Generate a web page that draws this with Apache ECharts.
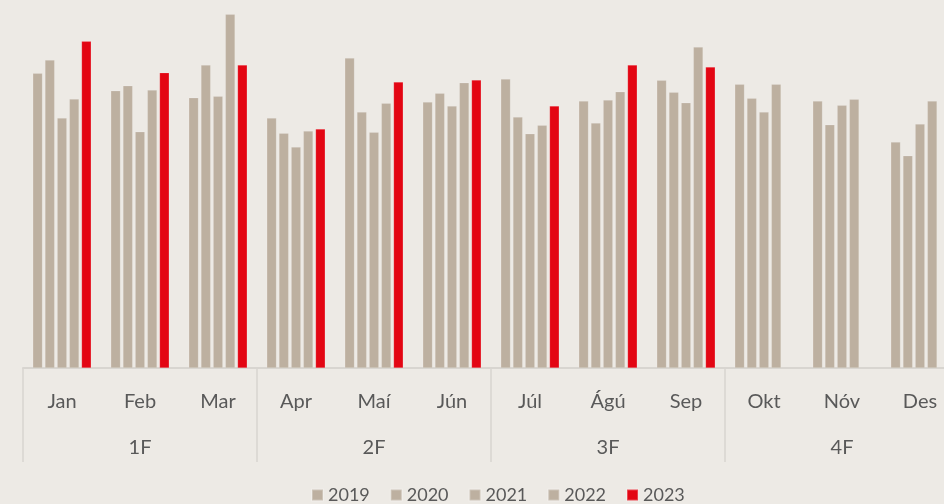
<!DOCTYPE html>
<html>
<head>
<meta charset="utf-8">
<script src="https://cdn.jsdelivr.net/npm/echarts@6/dist/echarts.min.js"></script>
<style>
html,body{margin:0;padding:0;background:#EDEAE5;overflow:hidden;width:944px;height:504px;}
#chart{width:959px;height:504px;}
</style>
</head>
<body>
<div id="chart"></div>
<script>
const months = ['Jan','Feb','Mar','Apr','Maí','Jún','Júl','Ágú','Sep','Okt','Nóv','Des'];
const quarters = ['1F','2F','3F','4F'];
const y2019 = [294.7, 277.3, 270.3, 250, 310, 266, 289, 267, 287.7, 283.7, 267, 226];
const y2020 = [308, 282.3, 303, 234.7, 256, 274.7, 251, 245, 275.7, 269.7, 243.3, 212.3];
const y2021 = [250, 236.3, 271.7, 221, 235.7, 262, 234.3, 268, 265.3, 256, 262.7, 244];
const y2022 = [269, 278, 353.7, 237, 264.7, 285.3, 242.7, 276.3, 321, 283.7, 268.7, 267];
const y2023 = [326.7, 295.3, 303, 239, 286, 288, 262, 303, 301, null, null, null];
const seriesNames = ['2019','2020','2021','2022','2023'];
const seriesData = [y2019, y2020, y2021, y2022, y2023];

const beige = '#BDB0A0';
const red = '#E30613';
const colors = [beige, beige, beige, beige, red];
const textColor = '#595959';
const lineColor = '#D8D5D0';

const chart = echarts.init(document.getElementById('chart'));
chart.setOption({
  backgroundColor: '#EDEAE5',
  animation: false,
  grid: { left: 23, top: 0, right: 0, height: 368, containLabel: false },
  legend: {
    bottom: -5,
    left: 306,
    itemWidth: 11,
    itemHeight: 11,
    itemGap: 20,
    icon: 'rect',
    textStyle: { color: textColor, fontSize: 18, fontFamily: 'Lato' },
    data: seriesNames
  },
  xAxis: [
    {
      type: 'category',
      data: months,
      axisLine: { show: true, lineStyle: { color: lineColor, width: 2 } },
      axisTick: { show: false },
      axisLabel: { color: textColor, fontSize: 20, fontFamily: 'Lato', margin: 24 }
    },
    {
      type: 'category',
      data: quarters,
      position: 'bottom',
      axisLine: { show: false },
      axisTick: { show: true, length: 94, lineStyle: { color: lineColor, width: 1.5 } },
      axisLabel: { color: textColor, fontSize: 20, fontFamily: 'Lato', margin: 70 }
    }
  ],
  yAxis: {
    type: 'value',
    min: 0,
    max: 368,
    show: false,
    splitLine: { show: false }
  },
  series: seriesNames.map((n, i) => ({
    name: n,
    type: 'bar',
    xAxisIndex: 0,
    data: seriesData[i],
    barCategoryGap: '25%',
    barGap: '25%',
    itemStyle: { color: colors[i], borderColor: 'rgba(255,255,255,0.25)', borderWidth: 0.6 }
  }))
});
</script>
</body>
</html>
